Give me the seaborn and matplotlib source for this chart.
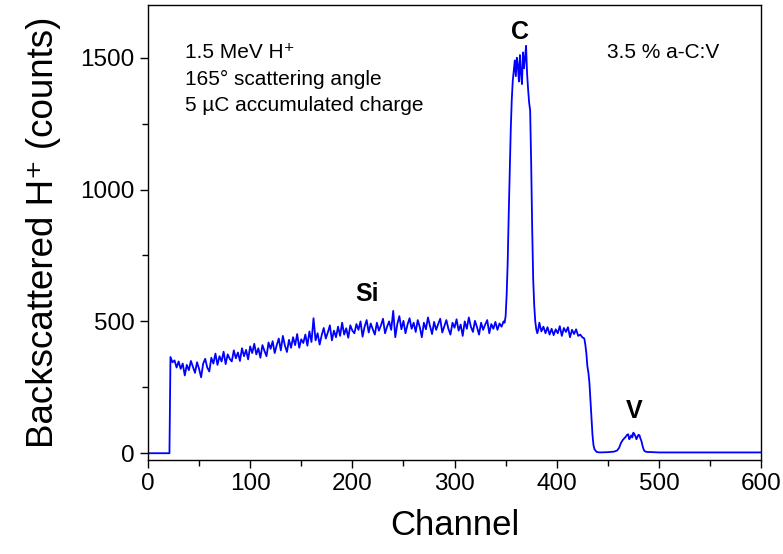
import numpy as np
import pandas as pd
import matplotlib
matplotlib.use("Agg")
import matplotlib.pyplot as plt
import seaborn as sns

# RBS spectrum, counts
# empty channels before the Si edge
pre_channels = [0, 21]
pre_counts = [0, 0]

# Si continuum, channels 22..348 every 2 channels
si_channels = list(range(22, 349, 2))
si_counts = [
    365, 345, 352, 325, 348, 320, 340, 295, 335, 315,
    350, 328, 305, 345, 320, 288, 340, 358, 325, 310,
    362, 340, 378, 335, 368, 348, 385, 338, 375, 358,
    348, 390, 360, 382, 350, 398, 368, 392, 356, 405,
    380, 415, 375, 398, 362, 410, 388, 368, 420, 396,
    425, 380, 410, 435, 390, 445, 408, 384, 430, 400,
    440, 410, 452, 400, 432, 418, 450, 408, 462, 422,
    512, 428, 455, 412, 448, 475, 435, 458, 485, 428,
    465, 440, 480, 445, 495, 450, 474, 438, 485, 465,
    455, 490, 468, 500, 442, 480, 505, 458, 492, 470,
    450, 495, 465, 485, 510, 455, 480, 500, 468, 540,
    440, 490, 520, 470, 502, 455, 488, 512, 472, 495,
    460, 505, 478, 440, 495, 470, 515, 482, 452, 498,
    468, 490, 510, 458, 482, 505, 472, 450, 495, 476,
    508, 465, 488, 445, 500, 472, 515, 480, 460, 502,
    478, 450, 495, 468, 488, 505, 455, 490, 472, 498,
    468, 492, 480, 500,
]

# C peak, channels 349..382
c_channels = list(range(349, 383))
c_counts = [
    495, 520, 600, 720, 900, 1060, 1224, 1340, 1413, 1450,
    1490, 1430, 1500, 1470, 1410, 1510, 1440, 1400, 1520, 1460,
    1500, 1545, 1440, 1380, 1330, 1300, 1100, 850, 657, 560,
    500, 470, 455, 470,
]

# plateau after C peak and the high-energy edge
edge_channels = [383, 385, 387, 389, 391, 393, 395, 397, 399, 401,
                 403, 405, 407, 409, 411, 413, 415, 417, 419, 421,
                 423, 425, 427, 428, 429, 430, 431, 432, 433, 434,
                 435, 436, 437, 439, 442, 450, 456]
edge_counts = [495, 462, 480, 455, 478, 450, 472, 448, 470, 455,
               482, 445, 475, 460, 478, 440, 468, 452, 470, 445,
               450, 440, 435, 412, 380, 330, 306, 268, 200, 128,
               70, 30, 15, 5, 3, 4, 6]

# V peak and tail
v_channels = [459, 461, 463, 465, 467, 469, 470, 471, 472, 473,
              474, 475, 476, 477, 478, 479, 480, 481, 482, 483,
              484, 485, 486, 488, 500, 550, 600]
v_counts = [10, 20, 40, 52, 60, 70, 72, 53, 60, 68,
            60, 78, 72, 65, 53, 62, 70, 68, 55, 45,
            28, 15, 8, 5, 3, 3, 3]

info_lines = ["1.5 MeV H\u207a", "165° scattering angle", "5 µC accumulated charge"]
sample_label = "3.5 % a-C:V"
peak_names = ["Si", "C", "V"]
peak_pos = [(214, 605), (364, 1598), (475.5, 159)]

df = pd.DataFrame({
    "channel": pre_channels + si_channels + c_channels + edge_channels + v_channels,
    "counts": pre_counts + si_counts + c_counts + edge_counts + v_counts,
})

sns.set_style("ticks")
plt.rcParams["font.family"] = ["Liberation Sans", "DejaVu Sans"]
plt.rcParams["text.color"] = "black"
plt.rcParams["axes.labelcolor"] = "black"
plt.rcParams["xtick.color"] = "black"
plt.rcParams["ytick.color"] = "black"

fig = plt.figure(figsize=(7.83, 5.54), dpi=100)
ax = fig.add_axes([0.189, 0.170, 0.783, 0.821])

sns.lineplot(data=df, x="channel", y="counts", estimator=None, sort=False,
             color="#0000ff", linewidth=1.3, ax=ax)

ax.set_xlim(0, 600)
ax.set_ylim(-25, 1700)
ax.set_xticks([0, 100, 200, 300, 400, 500, 600])
ax.set_xticks(range(50, 600, 100), minor=True)
ax.set_yticks([0, 500, 1000, 1500])
ax.set_yticks([250, 750, 1250], minor=True)
ax.tick_params(axis="both", which="major", labelsize=17.5, length=6, width=1,
               direction="out", colors="black")
ax.tick_params(axis="both", which="minor", length=4, width=1, direction="out", colors="black")
for sp in ax.spines.values():
    sp.set_linewidth(1.0)
    sp.set_color("black")

ax.set_xlabel("Channel", fontsize=25, labelpad=10)
ax.set_ylabel("Backscattered H\u207a (counts)", fontsize=26.5, labelpad=14)

for line, yf in zip(info_lines, [0.883, 0.824, 0.766]):
    ax.text(0.060, yf, line, transform=ax.transAxes, fontsize=15, va="baseline", ha="left")
ax.text(0.748, 0.883, sample_label, transform=ax.transAxes, fontsize=15, va="baseline", ha="left")

for name, (px, py) in zip(peak_names, peak_pos):
    ax.text(px, py, name, fontsize=18, fontweight="bold", ha="center", va="center")

fig.savefig("out.png", dpi=100)
